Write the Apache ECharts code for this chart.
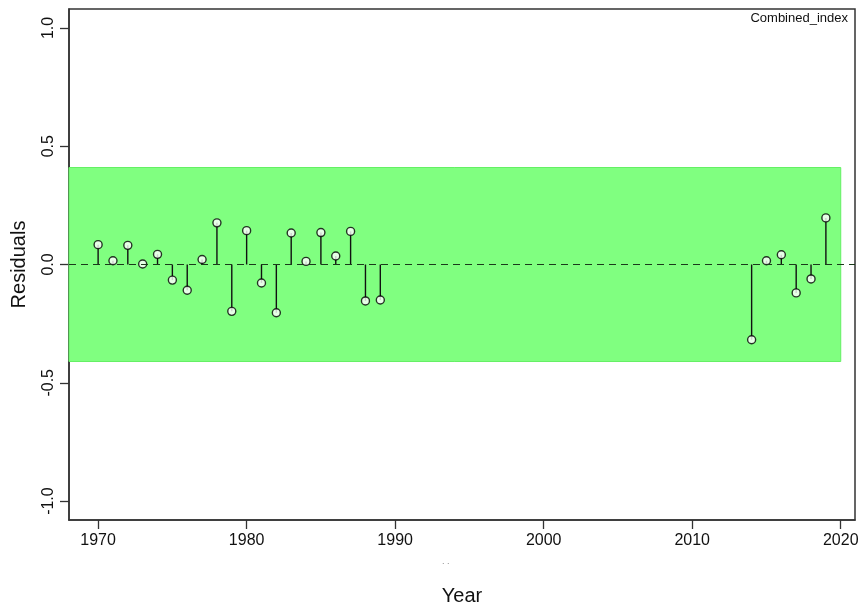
<!DOCTYPE html>
<html>
<head>
<meta charset="utf-8">
<script src="https://cdn.jsdelivr.net/npm/echarts@6/dist/echarts.min.js"></script>
<style>
  html, body { margin: 0; padding: 0; background: #fff; }
  #chart { width: 864px; height: 608px; }
</style>
</head>
<body>
<div id="chart"></div>
<script>
// Residuals of the combined index by year
const years = [1970, 1971, 1972, 1973, 1974, 1975, 1976, 1977, 1978, 1979,
               1980, 1981, 1982, 1983, 1984, 1985, 1986, 1987, 1988, 1989,
               2014, 2015, 2016, 2017, 2018, 2019];
const residuals = [0.084, 0.016, 0.081, 0.002, 0.043, -0.066, -0.109, 0.021, 0.176, -0.198,
                   0.143, -0.078, -0.204, 0.133, 0.013, 0.135, 0.036, 0.140, -0.154, -0.150,
                   -0.318, 0.016, 0.041, -0.120, -0.061, 0.197];
const xTicks = [1970, 1980, 1990, 2000, 2010, 2020];
const yTicks = [-1.0, -0.5, 0.0, 0.5, 1.0];
// shaded acceptance band
const bandLow = -0.41;
const bandHigh = 0.41;
const bandEnd = 2020;
const seriesName = 'Combined_index';

const xMin = 1968.04, xMax = 2020.96;
const yMin = -1.08, yMax = 1.08;

const points = years.map((y, i) => [y, residuals[i]]);
const font = '"Liberation Sans", Arial, sans-serif';
const frame = '#333';

const chart = echarts.init(document.getElementById('chart'), null, { renderer: 'canvas' });
chart.setOption({
  animation: false,
  backgroundColor: '#ffffff',
  grid: {
    left: 69, top: 9, right: 9, bottom: 88,
    outerBoundsMode: 'none', containLabel: false,
    show: true, borderColor: frame, borderWidth: 1.5, backgroundColor: 'transparent'
  },
  xAxis: {
    type: 'value', min: xMin, max: xMax,
    splitLine: { show: false },
    axisLine: { show: true, onZero: false, lineStyle: { color: frame, width: 1.5 } },
    axisTick: { show: true, length: 9, customValues: xTicks, lineStyle: { color: frame, width: 1.3 } },
    axisLabel: {
      customValues: xTicks, margin: 13, color: '#111',
      fontFamily: font, fontSize: 16, formatter: v => String(Math.round(v))
    },
    name: 'Year', nameLocation: 'middle', nameGap: 66,
    nameTextStyle: { fontFamily: font, fontSize: 20, color: '#111' }
  },
  yAxis: {
    type: 'value', min: yMin, max: yMax,
    splitLine: { show: false },
    axisLine: { show: true, onZero: false, lineStyle: { color: frame, width: 1.5 } },
    axisTick: { show: true, length: 9, customValues: yTicks, lineStyle: { color: frame, width: 1.3 } },
    axisLabel: {
      customValues: yTicks, margin: 12, rotate: 90, color: '#111',
      fontFamily: font, fontSize: 16, formatter: v => v.toFixed(1)
    },
    name: 'Residuals', nameLocation: 'middle', nameGap: 40,
    nameTextStyle: { fontFamily: font, fontSize: 20, color: '#111' }
  },
  graphic: [
    {
      type: 'text', right: 16, top: 12,
      style: { text: seriesName, font: '13px ' + font, fill: '#111' }
    },
    {
      type: 'text', left: 442, top: 557,
      style: { text: '. .', font: '9px ' + font, fill: '#888' }
    }
  ],
  series: [
    {
      // band and zero reference line
      type: 'line', data: [], silent: true,
      markArea: {
        silent: true,
        itemStyle: { color: 'rgb(128,255,128)', borderColor: 'rgb(100,240,100)', borderWidth: 1 },
        data: [[{ xAxis: xMin, yAxis: bandLow }, { xAxis: bandEnd, yAxis: bandHigh }]]
      },
      markLine: {
        silent: true, symbol: 'none', label: { show: false },
        lineStyle: { color: '#1a3a1a', type: [7, 5], width: 1.2 },
        data: [{ yAxis: 0 }]
      },
      z: 1
    },
    {
      // stems from zero to each residual
      type: 'custom', data: points, z: 3,
      renderItem: (params, api) => {
        const p0 = api.coord([api.value(0), 0]);
        const p1 = api.coord([api.value(0), api.value(1)]);
        return {
          type: 'line',
          shape: { x1: p0[0], y1: p0[1], x2: p1[0], y2: p1[1] },
          style: { stroke: '#111', lineWidth: 1.4 }
        };
      }
    },
    {
      type: 'scatter', data: points, z: 4,
      symbol: 'circle', symbolSize: 8,
      itemStyle: { color: '#ffffff', borderColor: '#000', borderWidth: 1.4 }
    }
  ]
});
</script>
</body>
</html>
